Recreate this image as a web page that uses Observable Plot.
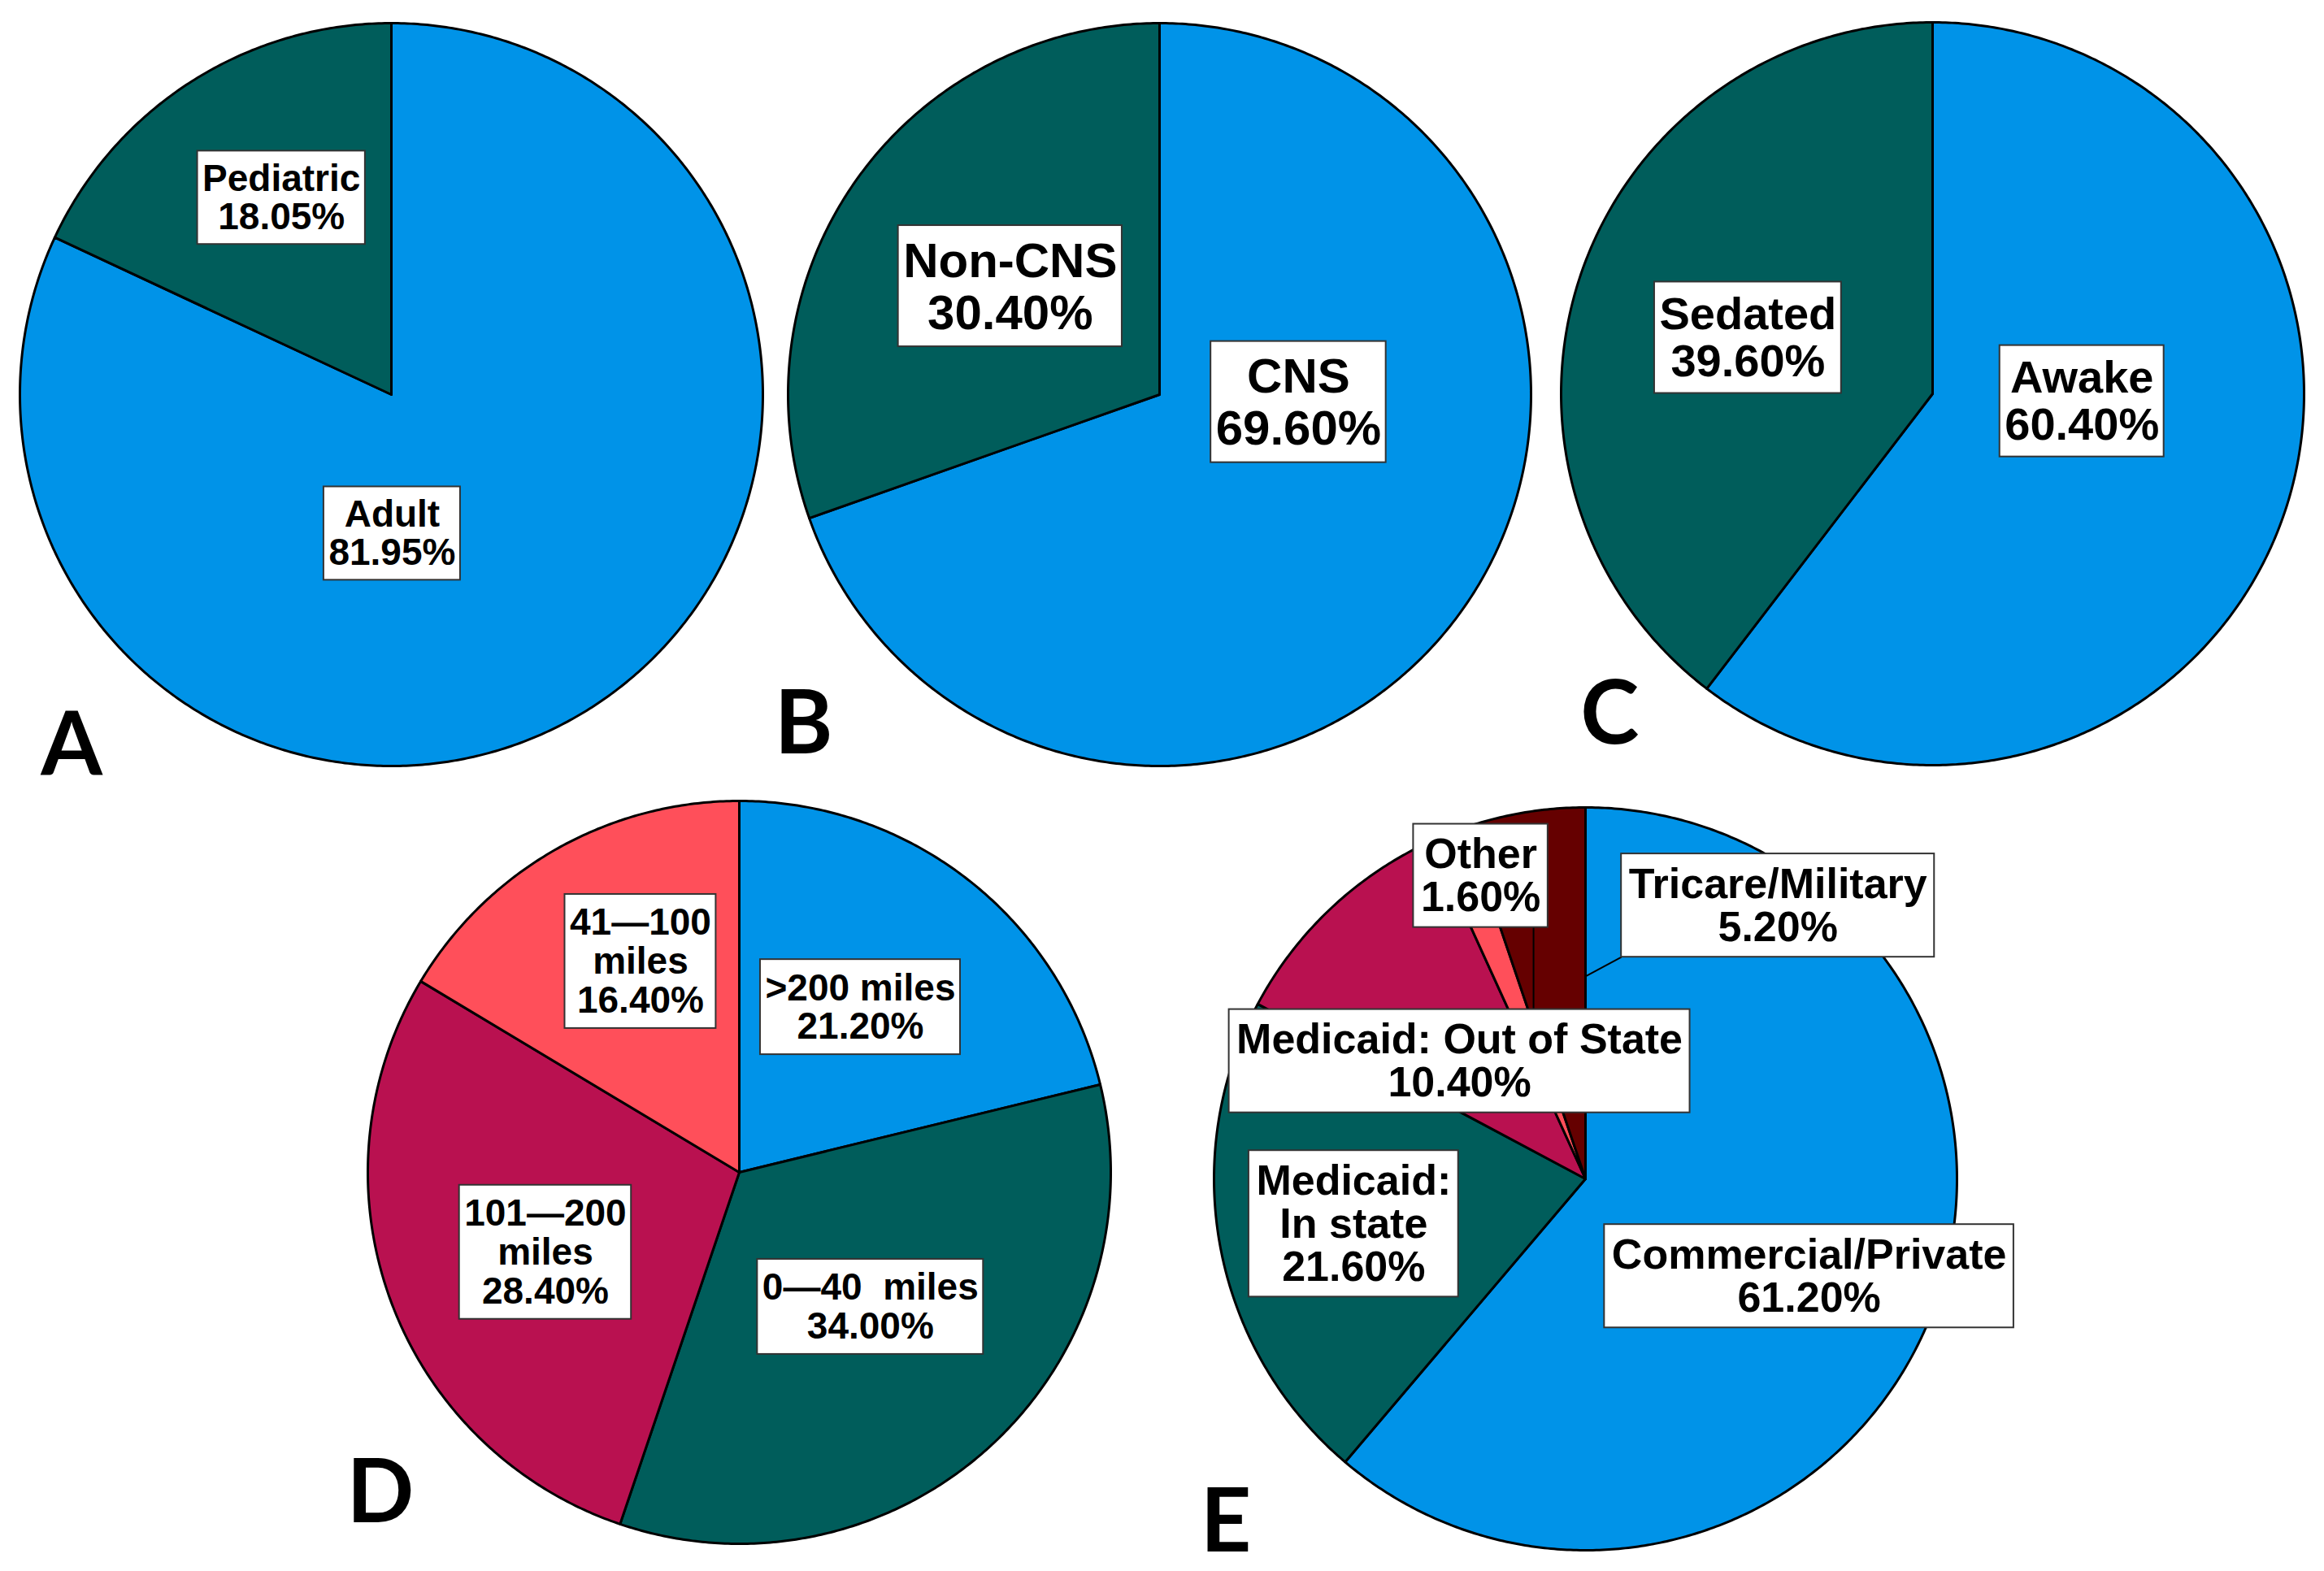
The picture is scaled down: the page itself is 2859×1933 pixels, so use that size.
<!DOCTYPE html>
<html><head><meta charset="utf-8">
<script src="https://cdn.jsdelivr.net/npm/d3@7"></script>
<script src="https://cdn.jsdelivr.net/npm/@observablehq/plot@0.6"></script>
<style>
html,body{margin:0;padding:0;background:#fff;}
#fig{position:relative;width:2859px;height:1933px;overflow:hidden;background:#fff;}
#fig > .panel{position:absolute;}
</style></head><body><div id="fig"></div>
<script>
// ---------------- DATA ----------------
const ageLabels = ["Adult", "Pediatric"];
const ageValues = [81.95, 18.05];

const tumorLabels = ["CNS", "Non-CNS"];
const tumorValues = [69.60, 30.40];

const sedationLabels = ["Awake", "Sedated"];
const sedationValues = [60.40, 39.60];

const distanceLabels = [">200 miles", "0\u201440\u00a0 miles", "101\u2014200\nmiles", "41\u2014100\nmiles"];
const distanceValues = [21.20, 34.00, 28.40, 16.40];

const insuranceLabels = ["Commercial/Private", "Medicaid:\nIn state", "Medicaid: Out of State", "Other", "Tricare/Military"];
const insuranceValues = [61.20, 21.60, 10.40, 1.60, 5.20];

const panelLetters = ["A", "B", "C", "D", "E"];

// ---------------- STYLE & LAYOUT ----------------
const BLUE = "#0093E8", TEAL = "#005D5B", CRIMSON = "#B91150", SALMON = "#FF4F5A", MAROON = "#650000";
const R = 457;          // pie radius in px
const W = 1160;         // size of each panel svg
const K = W / 2 / R;    // half-extent in radius units
const LABEL_FONT = "Liberation Sans, Arial, sans-serif";
const LETTER_FONT = "Lato, Open Sans, sans-serif";

const panels = [
  {labels: ageLabels, values: ageValues, colors: [BLUE, TEAL], cx: 481, cy: 485,
   fontSize: 46, lineHeight: 1.02, padX: 6,
   labelPos: [[0.002, 0.374], [-0.296, -0.530]], letterPos: [-0.861, 1.024], leaders: []},
  {labels: tumorLabels, values: tumorValues, colors: [BLUE, TEAL], cx: 1426, cy: 485,
   fontSize: 60, lineHeight: 1.067, padX: 6,
   labelPos: [[0.374, 0.020], [-0.402, -0.292]], letterPos: [-0.958, 0.965], leaders: []},
  {labels: sedationLabels, values: sedationValues, colors: [BLUE, TEAL], cx: 2377, cy: 484,
   fontSize: 56, lineHeight: 1.036, padX: 6,
   labelPos: [[0.402, 0.020], [-0.497, -0.151]], letterPos: [-0.869, 0.943], leaders: []},
  {labels: distanceLabels, values: distanceValues, colors: [BLUE, TEAL, CRIMSON, SALMON], cx: 909, cy: 1442,
   fontSize: 46, lineHeight: 1.043, padX: 6,
   labelPos: [[0.326, -0.445], [0.353, 0.362], [-0.522, 0.215], [-0.266, -0.568]], letterPos: [-0.966, 0.941], leaders: []},
  {labels: insuranceLabels, values: insuranceValues, colors: [BLUE, TEAL, CRIMSON, SALMON, MAROON], cx: 1950, cy: 1450,
   fontSize: 52, lineHeight: 1.02, padX: 9,
   labelPos: [[0.602, 0.262], [-0.624, 0.121], [-0.339, -0.317], [-0.282, -0.816], [0.518, -0.736]],
   letterPos: [-0.968, 1.004],
   leaders: [{slice: 3, angleFrac: 0.5, r: 0.38}, {slice: 4, angleFrac: 1.0, r: 0.545}]}
];
const PAD_Y = 10.5;

// ---------------- HELPERS ----------------
const canvas = document.createElement("canvas");
const ctx = canvas.getContext("2d");
function textWidth(s, size) {
  ctx.font = `bold ${size}px "Liberation Sans", Arial, sans-serif`;
  return ctx.measureText(s).width;
}

function slices(values) {
  const total = d3.sum(values);
  let acc = 0;
  return values.map((v, i) => {
    const a0 = acc / total * 2 * Math.PI;
    acc += v;
    const a1 = acc / total * 2 * Math.PI;
    const n = Math.max(2, Math.ceil((a1 - a0) / (Math.PI / 360)));
    const pts = [{x: 0, y: 0}];
    for (let j = 0; j <= n; j++) {
      const a = a0 + (a1 - a0) * j / n;
      pts.push({x: Math.sin(a), y: Math.cos(a)});
    }
    pts.push({x: 0, y: 0});
    return {i, a0, a1, pts};
  });
}

const fig = document.getElementById("fig");

panels.forEach((p, pi) => {
  const sl = slices(p.values);
  const labelData = p.labels.map((lab, i) => {
    const text = `${lab}\n${p.values[i].toFixed(2)}%`;
    const lines = text.split("\n");
    const wpx = d3.max(lines, l => textWidth(l, p.fontSize)) + 2 * p.padX;
    const hpx = lines.length * p.fontSize * p.lineHeight + 2 * PAD_Y;
    const x = p.labelPos[i][0], y = -p.labelPos[i][1];
    return {text, x, y, x1: x - wpx / 2 / R, x2: x + wpx / 2 / R, y1: y - hpx / 2 / R, y2: y + hpx / 2 / R};
  });
  const leaderData = p.leaders.map(ld => {
    const s = sl[ld.slice];
    const a = s.a0 + (s.a1 - s.a0) * ld.angleFrac;
    const ax = ld.r * Math.sin(a), ay = ld.r * Math.cos(a);
    const b = labelData[ld.slice];
    const bx = Math.min(Math.max(ax, b.x1), b.x2);
    const by = Math.min(Math.max(ay, b.y1), b.y2);
    return {x1: ax, y1: ay, x2: bx, y2: by};
  });

  const marks = [
    ...sl.map(s => Plot.line(s.pts, {x: "x", y: "y", fill: p.colors[s.i], stroke: "black", strokeWidth: 3, strokeLinejoin: "round"})),
    Plot.link(leaderData, {x1: "x1", y1: "y1", x2: "x2", y2: "y2", stroke: "black", strokeWidth: 2}),
    Plot.rect(labelData, {x1: "x1", x2: "x2", y1: "y1", y2: "y2", fill: "white", stroke: "#333", strokeWidth: 2}),
    Plot.text(labelData, {x: "x", y: "y", text: "text", fontSize: p.fontSize, fontWeight: "bold",
      fontFamily: LABEL_FONT, lineHeight: p.lineHeight, fill: "black", textAnchor: "middle"}),
    Plot.text([{x: p.letterPos[0], y: -p.letterPos[1], t: panelLetters[pi]}], {x: "x", y: "y", text: "t",
      fontSize: 109, fontWeight: "bold", fontFamily: LETTER_FONT, fill: "black", textAnchor: "middle", lineAnchor: "bottom"})
  ];

  const svg = Plot.plot({
    width: W, height: W, margin: 0,
    x: {domain: [-K, K], axis: null},
    y: {domain: [-K, K], axis: null},
    style: {background: "transparent", overflow: "visible", maxWidth: "none"},
    marks
  });
  const div = document.createElement("div");
  div.className = "panel";
  div.style.left = (p.cx - W / 2) + "px";
  div.style.top = (p.cy - W / 2) + "px";
  div.style.width = W + "px";
  div.style.height = W + "px";
  div.appendChild(svg);
  fig.appendChild(div);
});
</script>
</body></html>
